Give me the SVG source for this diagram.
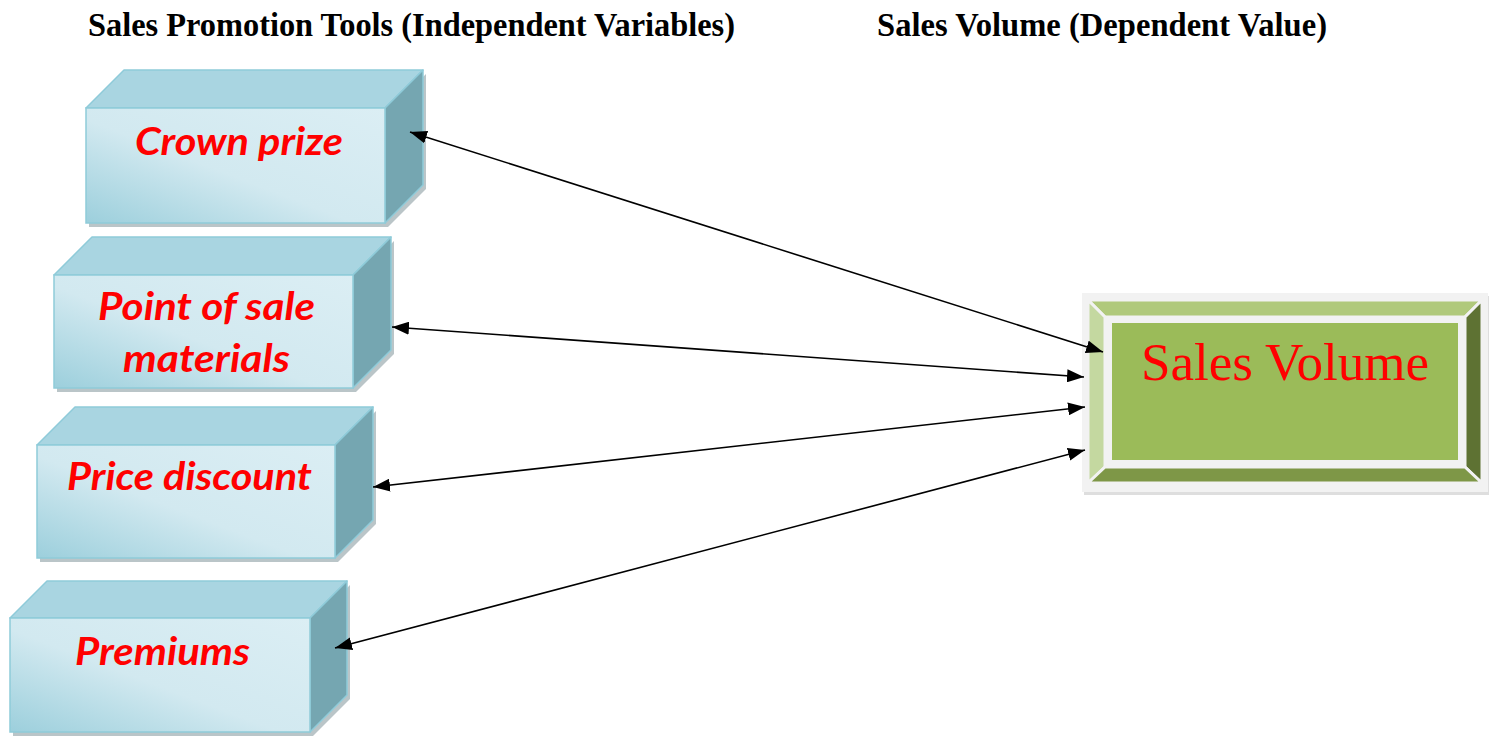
<svg xmlns="http://www.w3.org/2000/svg" width="1489" height="738" viewBox="0 0 1489 738">
<style>
.hdr{font-family:"Liberation Serif","Times New Roman",serif;font-weight:bold;font-size:33px;fill:#000}
.lbl{font-family:Lato,"Liberation Sans",sans-serif;font-weight:bold;font-style:italic;font-size:39px;fill:#ff0000}
.top{fill:#a9d5e1;stroke:#8fcbd9;stroke-width:1.5;stroke-linejoin:round}
.side{fill:#75a6b1;stroke:#8fcbd9;stroke-width:1.5;stroke-linejoin:round}
.front{fill:url(#fg);stroke:#8fcbd9;stroke-width:1.5}
.shadow{fill:#a9b6ba;opacity:0.8}
.conn{stroke:#000;stroke-width:1.6;fill:none;marker-start:url(#ah);marker-end:url(#ah)}
.sv{font-family:"Liberation Serif","Times New Roman",serif;font-size:53px;fill:#ff0000}
</style>
<defs>
<linearGradient id="fg" x1="0" y1="1" x2="1" y2="0">
<stop offset="0" stop-color="#9ccfdc"/>
<stop offset="0.45" stop-color="#d2e9f0"/>
<stop offset="1" stop-color="#dbeef4"/>
</linearGradient>
<marker id="ah" markerUnits="userSpaceOnUse" markerWidth="17" markerHeight="13" refX="17" refY="6.5" orient="auto-start-reverse">
<path d="M0,0 L17,6.5 L0,13 z" fill="#000"/>
</marker>
</defs>
<rect width="1489" height="738" fill="#fff"/>
<text class="hdr" x="88" y="36" textLength="647" lengthAdjust="spacingAndGlyphs">Sales Promotion Tools (Independent Variables)</text>
<text class="hdr" x="877" y="36" textLength="450" lengthAdjust="spacingAndGlyphs">Sales Volume (Dependent Value)</text>

<g id="node-crown-prize">
<polygon class="shadow" points="89,112 388,112 426,74 426,189 388,227 89,227"/>
<polygon class="top" points="86,108 124,70 423,70 385,108"/>
<polygon class="side" points="385,108 423,70 423,185 385,223"/>
<rect class="front" x="86" y="108" width="299" height="115"/>
<text class="lbl" x="135" y="155" textLength="208" lengthAdjust="spacingAndGlyphs">Crown prize</text>
</g>

<g id="node-point-of-sale">
<polygon class="shadow" points="57,279 356,279 394,241 394,354 356,392 57,392"/>
<polygon class="top" points="54,275 92,237 391,237 353,275"/>
<polygon class="side" points="353,275 391,237 391,350 353,388"/>
<rect class="front" x="54" y="275" width="299" height="113"/>
<text class="lbl" x="98" y="320" textLength="217" lengthAdjust="spacingAndGlyphs">Point of sale</text>
<text class="lbl" x="123" y="372" textLength="167" lengthAdjust="spacingAndGlyphs">materials</text>
</g>

<g id="node-price-discount">
<polygon class="shadow" points="40,449 338,449 376,411 376,524 338,562 40,562"/>
<polygon class="top" points="37,445 75,407 373,407 335,445"/>
<polygon class="side" points="335,445 373,407 373,520 335,558"/>
<rect class="front" x="37" y="445" width="298" height="113"/>
<text class="lbl" x="67" y="490" textLength="245" lengthAdjust="spacingAndGlyphs">Price discount</text>
</g>

<g id="node-premiums">
<polygon class="shadow" points="13,622 313,622 350,585 350,699 313,736 13,736"/>
<polygon class="top" points="10,618 47,581 347,581 310,618"/>
<polygon class="side" points="310,618 347,581 347,695 310,732"/>
<rect class="front" x="10" y="618" width="300" height="114"/>
<text class="lbl" x="75" y="665" textLength="175" lengthAdjust="spacingAndGlyphs">Premiums</text>
</g>

<g id="node-sales-volume">
<rect x="1084" y="296" width="405" height="199" fill="#c8c8c8" opacity="0.6"/>
<rect x="1082" y="293" width="406" height="199" fill="#f2f2f2"/>
<polygon points="1088,300 1482,300 1465,317 1105,317" fill="#b0c97b" stroke="#f2f2f2" stroke-width="3" stroke-linejoin="round"/>
<polygon points="1088,300 1105,317 1105,467 1088,483" fill="#c4d8a0" stroke="#f2f2f2" stroke-width="3" stroke-linejoin="round"/>
<polygon points="1482,300 1482,483 1465,467 1465,317" fill="#5e7233" stroke="#f2f2f2" stroke-width="3" stroke-linejoin="round"/>
<polygon points="1088,483 1105,467 1465,467 1482,483" fill="#7e9747" stroke="#f2f2f2" stroke-width="3" stroke-linejoin="round"/>
<rect x="1105" y="317" width="360" height="150" fill="#f2f2f2"/>
<rect x="1112" y="323" width="346" height="137" fill="#9bbb59"/>
<text class="sv" x="1285" y="380" text-anchor="middle">Sales Volume</text>
</g>

<g id="connectors">
<line class="conn" x1="410" y1="132" x2="1103" y2="352"/>
<line class="conn" x1="392" y1="327" x2="1084" y2="377"/>
<line class="conn" x1="373" y1="487" x2="1085" y2="407"/>
<line class="conn" x1="335" y1="648" x2="1085" y2="450"/>
</g>
</svg>
